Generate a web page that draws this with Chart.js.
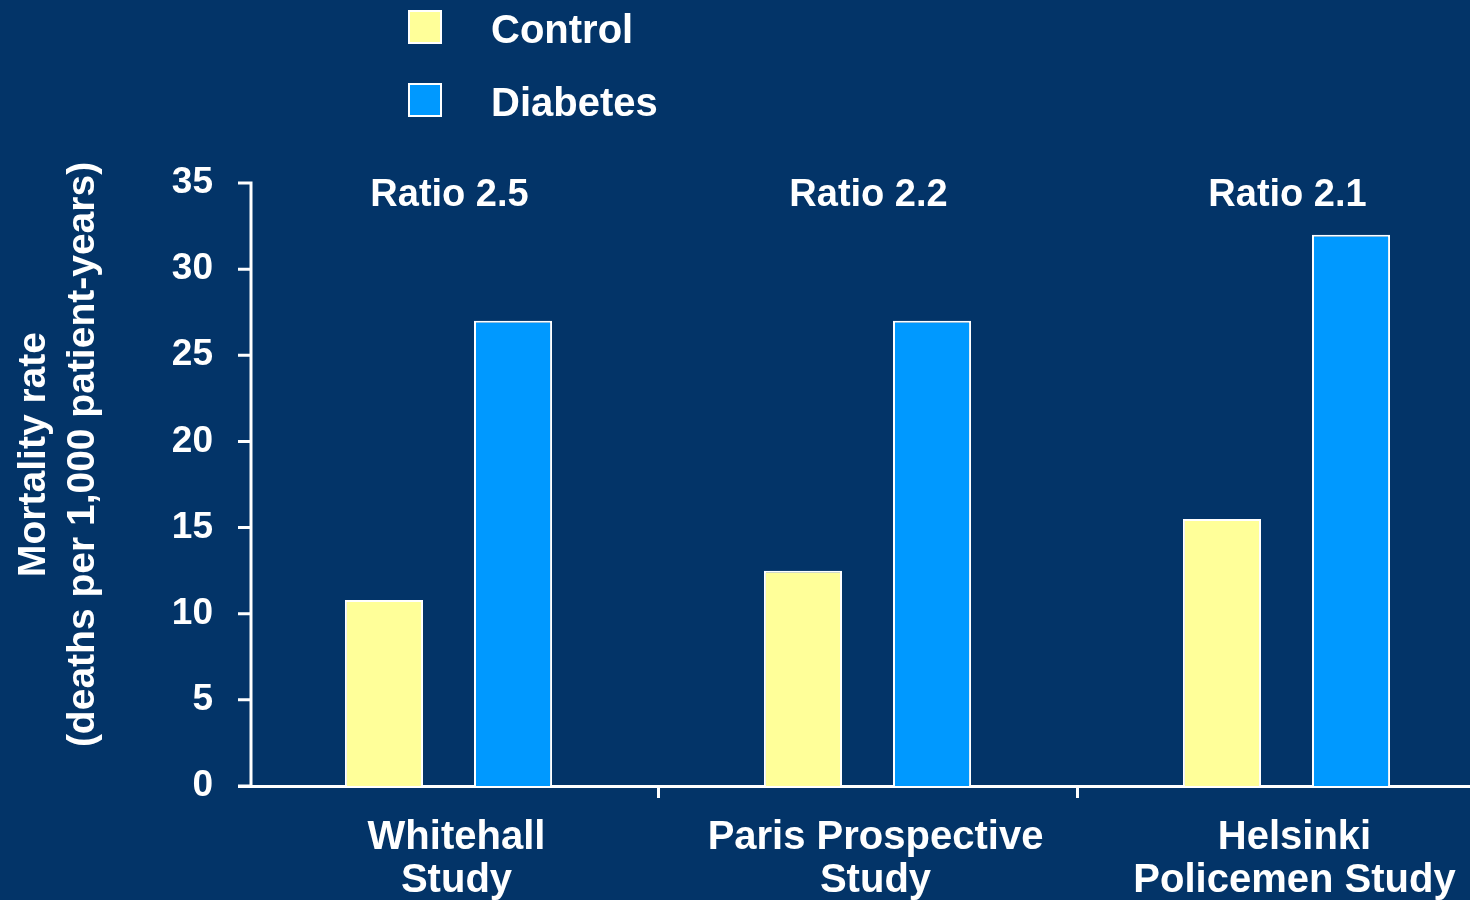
<!DOCTYPE html>
<html>
<head>
<meta charset="utf-8">
<title>Mortality rate: control vs diabetes</title>
<script src="https://cdn.jsdelivr.net/npm/chart.js@4.4.0/dist/chart.umd.min.js"></script>
<style>
  html, body { margin: 0; padding: 0; background: #033468; overflow: hidden; }
  canvas { display: block; }
</style>
</head>
<body>
<canvas id="chart" width="1496" height="900"></canvas>
<script>
const studies = [["Whitehall", "Study"], ["Paris Prospective", "Study"], ["Helsinki", "Policemen Study"]];
const controlRates = [10.8, 12.5, 15.5];
const diabetesRates = [27, 27, 32];
const ratioLabels = ["Ratio 2.5", "Ratio 2.2", "Ratio 2.1"];
const yTicks = [0, 5, 10, 15, 20, 25, 30, 35];
const yTitle = ["Mortality rate", "(deaths per 1,000 patient-years)"];

const FONT = "'Liberation Sans', Arial, sans-serif";
const WHITE = "#ffffff";
const YELLOW = "#ffff99";
const BLUE = "#0099ff";

// ratio text above each study group
const ratioPlugin = {
  id: "ratioLabels",
  afterDatasetsDraw(chart) {
    const { ctx, chartArea, scales } = chart;
    ctx.save();
    ctx.font = `bold 38px ${FONT}`;
    ctx.fillStyle = WHITE;
    ctx.textAlign = "center";
    ctx.textBaseline = "middle";
    ratioLabels.forEach((text, i) => {
      ctx.fillText(text, scales.x.getPixelForValue(i) + 1, chartArea.top + 13);
    });
    ctx.restore();
  }
};

// the y axis line sits a little inside the x axis start, with ticks to the left
const yAxisLinePlugin = {
  id: "yAxisLine",
  afterDraw(chart) {
    const { ctx, chartArea, scales } = chart;
    const x = chartArea.left + 12;
    ctx.save();
    ctx.strokeStyle = WHITE;
    ctx.lineWidth = 3;
    ctx.beginPath();
    ctx.moveTo(x, scales.y.getPixelForValue(yTicks[yTicks.length - 1]) - 1.5);
    ctx.lineTo(x, scales.y.getPixelForValue(0) + 1.5);
    yTicks.forEach((v) => {
      const y = scales.y.getPixelForValue(v);
      ctx.moveTo(x - 13, y);
      ctx.lineTo(x, y);
    });
    ctx.stroke();
    ctx.restore();
  }
};

// two-line rotated y title, sits a bit above the axis middle
const yTitlePlugin = {
  id: "yTitle",
  afterDraw(chart) {
    const { ctx, chartArea } = chart;
    const cy = (chartArea.top + chartArea.bottom) / 2 - 30;
    ctx.save();
    ctx.translate(34, cy);
    ctx.rotate(-Math.PI / 2);
    ctx.font = `bold 39px ${FONT}`;
    ctx.fillStyle = WHITE;
    ctx.textAlign = "center";
    ctx.textBaseline = "middle";
    yTitle.forEach((line, i) => ctx.fillText(line, 0, i * 49));
    ctx.restore();
  }
};

// stacked legend in the top left
const legendPlugin = {
  id: "stackedLegend",
  afterDraw(chart) {
    const { ctx } = chart;
    ctx.save();
    ctx.font = `bold 40px ${FONT}`;
    ctx.textBaseline = "middle";
    chart.data.datasets.forEach((ds, i) => {
      const top = 11 + i * 73;
      ctx.fillStyle = ds.backgroundColor;
      ctx.fillRect(409, top, 32, 32);
      ctx.strokeStyle = WHITE;
      ctx.lineWidth = 2;
      ctx.strokeRect(409, top, 32, 32);
      ctx.fillStyle = WHITE;
      ctx.fillText(ds.label, 491, top + 21);
    });
    ctx.restore();
  }
};

const ctx = document.getElementById("chart").getContext("2d");
new Chart(ctx, {
  type: "bar",
  data: {
    labels: studies,
    datasets: [
      {
        label: "Control",
        data: controlRates,
        backgroundColor: YELLOW,
        borderColor: WHITE,
        borderWidth: 2,
        categoryPercentage: 0.616,
        barPercentage: 0.605
      },
      {
        label: "Diabetes",
        data: diabetesRates,
        backgroundColor: BLUE,
        borderColor: WHITE,
        borderWidth: 2,
        categoryPercentage: 0.616,
        barPercentage: 0.605
      }
    ]
  },
  options: {
    responsive: false,
    animation: false,
    layout: { padding: { left: 149, top: 183, right: 0, bottom: 0 } },
    plugins: {
      legend: { display: false },
      tooltip: { enabled: false }
    },
    scales: {
      x: {
        afterFit: (scale) => { scale.height = 114; },
        grid: {
          offset: true,
          drawOnChartArea: false,
          tickLength: 12,
          lineWidth: 3,
          color: (c) => (c.index === 0 ? "rgba(0,0,0,0)" : WHITE)
        },
        border: { color: WHITE, width: 3 },
        ticks: {
          color: WHITE,
          font: { family: FONT, size: 40, weight: "bold", lineHeight: 1.08 },
          padding: 18,
          labelOffset: 8,
          maxRotation: 0,
          autoSkip: false
        }
      },
      y: {
        min: 0,
        max: 35,
        afterFit: (scale) => { scale.width = 90; },
        afterBuildTicks: (scale) => { scale.ticks = yTicks.map((v) => ({ value: v })); },
        grid: { display: false, drawTicks: false },
        border: { display: false },
        ticks: {
          color: WHITE,
          font: { family: FONT, size: 37, weight: "bold" },
          padding: 26
        }
      }
    }
  },
  plugins: [ratioPlugin, yAxisLinePlugin, yTitlePlugin, legendPlugin]
});
</script>
</body>
</html>
